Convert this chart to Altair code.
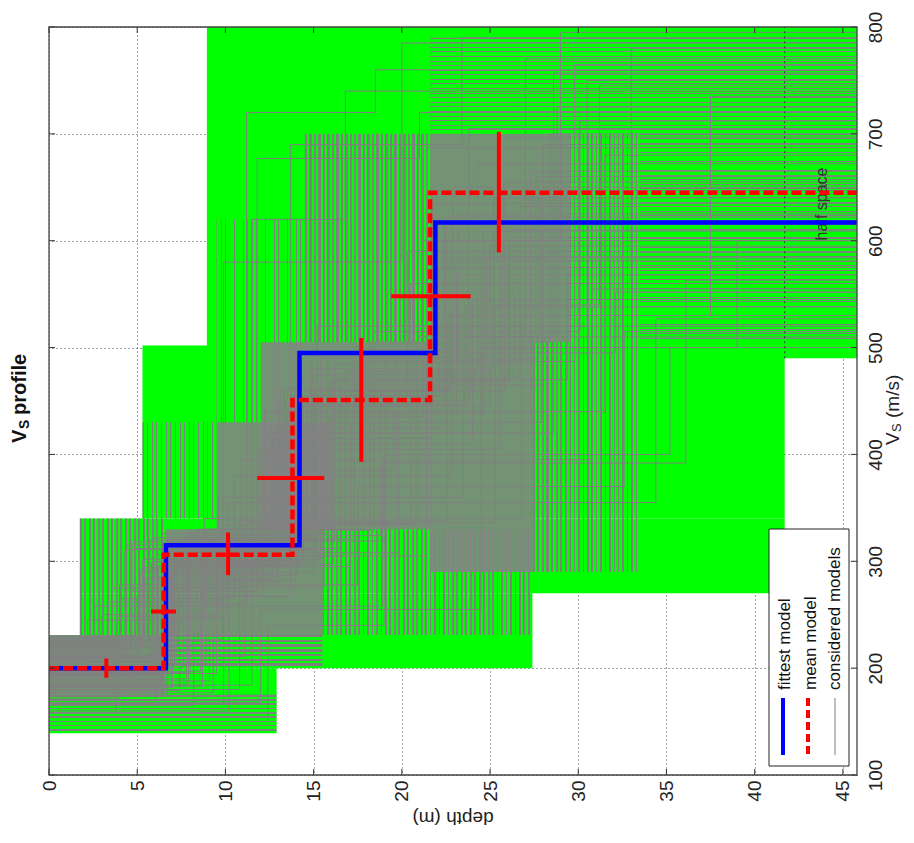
import altair as alt
import pandas as pd

DEPTH_MAX = 45.8
depth_ticks = [0, 5, 10, 15, 20, 25, 30, 35, 40, 45]
vs_ticks = [100, 200, 300, 400, 500, 600, 700, 800]

# green parameter-space envelope (depth from/to, Vs from/to)
green_d0 = [8.95, 5.3, 1.75, 1.75, 0.0, 0.0]
green_d1 = [45.8, 41.7, 41.7, 27.4, 27.4, 12.9]
green_v0 = [490, 340, 270, 231, 200, 139]
green_v1 = [800, 502, 340, 270, 231, 200]

# zones densely covered by considered models (solid gray)
core_d0 = [0.0, 6.6, 9.5, 12.0, 21.6, 21.6]
core_d1 = [6.6, 15.5, 16.0, 21.7, 29.5, 27.4]
core_v0 = [175, 231, 330, 330, 505, 290]
core_v1 = [231, 330, 430, 505, 700, 505]

# zones partly covered (line texture): depth from/to, Vs from/to, direction, gray share
tex_d0 = [1.75, 14.5, 29.5, 27.4, 0.0, 6.6, 15.5, 33.5, 5.3, 21.6, 9.5]
tex_d1 = [6.6, 21.6, 33.5, 29.5, 12.9, 15.5, 27.4, 45.8, 9.5, 45.8, 14.5]
tex_v0 = [231, 505, 290, 290, 139, 200, 231, 505, 340, 700, 430]
tex_v1 = [340, 700, 700, 505, 175, 231, 330, 700, 430, 790, 620]
tex_dir = ["v", "v", "v", "v", "h", "h", "v", "h", "v", "h", "v"]
tex_share = [0.4, 0.55, 0.35, 0.5, 0.4, 0.5, 0.4, 0.2, 0.22, 0.22, 0.15]

# considered models: v1, d1, v2, d2, v3, d3, v_halfspace
models = [
    [215, 5.2, 290, 12.4, 420, 24.5, 560], [190, 7.8, 310, 16.0, 470, 26.0, 610],
    [225, 4.1, 265, 10.5, 380, 22.8, 530], [205, 8.9, 330, 18.2, 505, 28.4, 700],
    [170, 6.1, 280, 13.0, 445, 20.3, 590], [160, 10.2, 300, 15.2, 520, 30.5, 750],
    [228, 3.0, 250, 9.6, 360, 23.5, 510], [198, 5.9, 322, 14.8, 480, 25.2, 640],
    [184, 11.5, 335, 20.5, 560, 33.0, 780], [212, 6.9, 295, 17.1, 430, 27.3, 665],
    [176, 4.6, 272, 11.8, 677, 21.0, 720], [220, 7.3, 318, 13.9, 455, 22.1, 575],
    [150, 12.4, 240, 19.0, 400, 35.2, 500], [208, 2.2, 245, 8.8, 340, 26.8, 530],
    [195, 9.5, 305, 21.4, 600, 29.0, 795], [230, 5.5, 285, 12.9, 410, 24.0, 545],
    [186, 6.4, 326, 15.8, 490, 23.2, 625], [165, 8.2, 260, 11.2, 720, 18.5, 760],
    [218, 4.9, 312, 16.5, 465, 28.0, 690], [202, 7.1, 298, 14.3, 435, 21.2, 600],
    [222, 3.6, 275, 10.9, 395, 30.8, 555], [180, 10.8, 338, 22.6, 530, 37.5, 735],
    [210, 6.0, 300, 13.3, 460, 25.8, 655], [192, 5.0, 268, 12.1, 385, 19.6, 520],
    [226, 8.4, 330, 17.9, 498, 27.0, 770], [174, 6.7, 290, 15.0, 475, 24.8, 585],
    [214, 4.4, 315, 11.5, 620, 16.8, 740], [200, 7.6, 308, 19.8, 440, 31.5, 680],
    [188, 9.1, 282, 14.0, 425, 22.5, 615], [224, 5.7, 320, 16.2, 485, 26.4, 545],
    [168, 12.0, 255, 24.5, 500, 39.0, 600], [206, 6.2, 296, 13.6, 450, 23.8, 705],
    [216, 3.3, 262, 9.9, 580, 20.0, 785], [196, 8.0, 324, 18.8, 470, 29.4, 575],
    [182, 7.0, 288, 12.7, 415, 21.7, 635], [219, 5.3, 302, 15.4, 490, 27.7, 660],
    [203, 6.8, 316, 14.6, 445, 25.0, 595], [172, 4.0, 278, 17.5, 370, 32.6, 515],
    [227, 9.8, 334, 20.9, 510, 28.8, 725], [194, 6.5, 309, 13.1, 462, 22.9, 650],
    [211, 5.8, 299, 12.2, 440, 23.1, 568], [189, 6.3, 287, 14.1, 468, 26.1, 603],
    [223, 4.7, 318, 13.4, 455, 22.4, 622], [179, 7.4, 276, 15.6, 430, 27.9, 647],
    [209, 6.6, 305, 16.8, 478, 24.3, 672], [197, 8.6, 313, 14.9, 492, 21.9, 584],
    [213, 5.1, 292, 11.9, 405, 25.6, 697], [185, 7.9, 329, 18.4, 515, 30.1, 712],
    [221, 6.1, 306, 13.8, 447, 23.6, 538], [201, 5.6, 283, 12.6, 420, 28.6, 757],
    [177, 9.3, 297, 16.1, 472, 26.7, 632], [217, 4.3, 311, 15.1, 459, 22.7, 581],
    [193, 6.9, 321, 17.3, 487, 29.8, 765], [229, 5.4, 294, 13.5, 438, 24.6, 609],
    [207, 7.2, 301, 14.4, 452, 21.4, 687], [183, 8.7, 319, 19.1, 495, 32.1, 552],
    [158, 3.8, 248, 10.1, 355, 34.4, 527], [166, 9.9, 267, 13.7, 690, 23.4, 790],
    [199, 2.6, 258, 18.9, 392, 36.1, 563], [211, 11.1, 336, 25.3, 540, 31.2, 745],
]

fit_depth = [0, 6.63, 14.2, 21.9]
fit_vs = [200, 315, 495, 617]
mean_depth = [0, 6.5, 13.8, 21.6]
mean_vs = [200, 306, 451, 645]

# error bars of the mean model
vbar_depth = [3.25, 10.15, 17.7, 25.5]
vbar_lo = [191, 287, 393, 589]
vbar_hi = [209, 327, 509, 702]
hbar_vs = [253, 378, 548]
hbar_lo = [5.78, 11.8, 19.4]
hbar_hi = [7.2, 15.6, 23.9]

W, H = 808, 748
FONT = "Liberation Sans"
GRAY = "#808080"

xs = alt.Scale(domain=[0, DEPTH_MAX], nice=False, zero=False)
ys = alt.Scale(domain=[100, 800], nice=False, zero=False)

x_axis = alt.Axis(values=depth_ticks, title="", labelAngle=270, labelAlign="right",
                  labelBaseline="middle", labelPadding=5, ticks=False, tickSize=0,
                  domain=False, grid=True, gridDash=[1, 3], gridColor="#333",
                  gridOpacity=0.9, labelFontSize=19, labelFont=FONT, labelColor="#222")
y_axis = alt.Axis(orient="right", values=vs_ticks, title="", labelAngle=270,
                  labelAlign="center", labelBaseline="top", labelPadding=9,
                  ticks=False, tickSize=0, domain=False, grid=True, gridDash=[1, 3],
                  gridColor="#333", gridOpacity=0.9, labelFontSize=19, labelFont=FONT,
                  labelColor="#222")


def X(f):
    return alt.X(f, scale=xs, axis=x_axis)


def Y(f):
    return alt.Y(f, scale=ys, axis=y_axis)


def steps(depths, vs):
    rows = []
    k = 0
    for i, v in enumerate(vs):
        top = depths[i]
        bot = depths[i + 1] if i + 1 < len(depths) else DEPTH_MAX
        rows.append({"d": top, "v": v, "seq": k}); k += 1
        rows.append({"d": bot, "v": v, "seq": k}); k += 1
    return pd.DataFrame(rows)


def stripes(length_px, share, vertical):
    # hard-stop gradient imitating a bundle of thin gray lines
    period = 4.5
    n = max(1, int(round(length_px / period)))
    clear = "rgba(0,255,0,0)"
    stops = []
    for k in range(n):
        a = k / n
        b = (k + share) / n
        c = (k + 1) / n
        stops += [alt.GradientStop(offset=a, color=GRAY), alt.GradientStop(offset=b, color=GRAY),
                  alt.GradientStop(offset=b, color=clear), alt.GradientStop(offset=c, color=clear)]
    if vertical:
        return alt.LinearGradient(gradient="linear", stops=stops, x1=0, x2=1, y1=0, y2=0)
    return alt.LinearGradient(gradient="linear", stops=stops, x1=0, x2=0, y1=0, y2=1)


green_df = pd.DataFrame({"d0": green_d0, "d1": green_d1, "v0": green_v0, "v1": green_v1})
core_df = pd.DataFrame({"d0": core_d0, "d1": core_d1, "v0": core_v0, "v1": core_v1})

segs = []
for m in models:
    v1, d1, v2, d2, v3, d3, v4 = m
    segs += [
        (0, d1, v1, v1), (d1, d2, v2, v2), (d2, d3, v3, v3), (d3, DEPTH_MAX, v4, v4),
        (d1, d1, v1, v2), (d2, d2, v2, v3), (d3, d3, v3, v4),
    ]
seg_df = pd.DataFrame(segs, columns=["d0", "d1", "v0", "v1"])

green = alt.Chart(green_df).mark_rect(color="#00ff00").encode(
    x=X("d0:Q"), x2="d1:Q", y=Y("v0:Q"), y2="v1:Q")

tex_layers = []
for i in range(len(tex_d0)):
    vert = tex_dir[i] == "v"
    if vert:
        length = (tex_d1[i] - tex_d0[i]) * W / DEPTH_MAX
    else:
        length = (tex_v1[i] - tex_v0[i]) * H / 700.0
    dfi = pd.DataFrame({"d0": [tex_d0[i]], "d1": [tex_d1[i]], "v0": [tex_v0[i]], "v1": [tex_v1[i]]})
    tex_layers.append(alt.Chart(dfi).mark_rect(color=stripes(length, tex_share[i], vert)).encode(
        x=X("d0:Q"), x2="d1:Q", y=Y("v0:Q"), y2="v1:Q"))

core = alt.Chart(core_df).mark_rect(color="#848484", opacity=0.88).encode(
    x=X("d0:Q"), x2="d1:Q", y=Y("v0:Q"), y2="v1:Q")

gray = alt.Chart(seg_df).mark_rule(color=GRAY, strokeWidth=1).encode(
    x=X("d0:Q"), x2="d1:Q", y=Y("v0:Q"), y2="v1:Q")

hs_line = alt.Chart(pd.DataFrame({"d": [41.7], "v0": [490], "v1": [800]})).mark_rule(
    color="#333", strokeDash=[2, 3], strokeWidth=1).encode(
    x=X("d:Q"), y=Y("v0:Q"), y2="v1:Q")

hs_text = alt.Chart(pd.DataFrame({"t": ["half space"]})).mark_text(
    angle=270, align="center", baseline="middle", fontSize=16, font=FONT,
    color="#333").encode(text="t:N", x=alt.value(773), y=alt.value(177))

fit = alt.Chart(steps(fit_depth, fit_vs)).mark_line(color="#0000ff", strokeWidth=4.5).encode(
    x=X("d:Q"), y=Y("v:Q"), order="seq:Q")

mean = alt.Chart(steps(mean_depth, mean_vs)).mark_line(
    color="#ff0000", strokeWidth=4.5, strokeDash=[10, 4]).encode(
    x=X("d:Q"), y=Y("v:Q"), order="seq:Q")

vbars = alt.Chart(pd.DataFrame({"d": vbar_depth, "lo": vbar_lo, "hi": vbar_hi})).mark_rule(
    color="#ff0000", strokeWidth=4).encode(x=X("d:Q"), y=Y("lo:Q"), y2="hi:Q")

hbars = alt.Chart(pd.DataFrame({"v": hbar_vs, "lo": hbar_lo, "hi": hbar_hi})).mark_rule(
    color="#ff0000", strokeWidth=4).encode(y=Y("v:Q"), x=X("lo:Q"), x2="hi:Q")

# inside ticks (MATLAB style)
dt = pd.DataFrame({"d": depth_ticks})
vt = pd.DataFrame({"v": vs_ticks})
tick_b = alt.Chart(dt).mark_rule(color="#333").encode(
    x=X("d:Q"), y=alt.value(H), y2=alt.value(H - 6))
tick_t = alt.Chart(dt).mark_rule(color="#333").encode(
    x=X("d:Q"), y=alt.value(0), y2=alt.value(6))
tick_l = alt.Chart(vt).mark_rule(color="#333").encode(
    y=Y("v:Q"), x=alt.value(0), x2=alt.value(6))
tick_r = alt.Chart(vt).mark_rule(color="#333").encode(
    y=Y("v:Q"), x=alt.value(W), x2=alt.value(W - 6))

one = pd.DataFrame({"k": [0]})
box = alt.Chart(one).mark_rect(filled=False, stroke="#444", strokeWidth=1.3).encode(
    x=alt.value(0), x2=alt.value(W), y=alt.value(0), y2=alt.value(H))

# legend (rotated)
leg_box = alt.Chart(one).mark_rect(fill="white", stroke="#222", strokeWidth=1).encode(
    x=alt.value(720), x2=alt.value(800), y=alt.value(502), y2=alt.value(739))
leg_fit = alt.Chart(one).mark_rule(color="#0000ff", strokeWidth=4).encode(
    x=alt.value(734), y=alt.value(671), y2=alt.value(728))
leg_mean = alt.Chart(one).mark_rule(color="#ff0000", strokeWidth=4, strokeDash=[8, 4]).encode(
    x=alt.value(759), y=alt.value(671), y2=alt.value(728))
leg_cons = alt.Chart(one).mark_rule(color=GRAY, strokeWidth=1).encode(
    x=alt.value(786), y=alt.value(671), y2=alt.value(728))
leg_t1 = alt.Chart(one).mark_text(text="fittest model", angle=270, align="left",
                                  baseline="middle", fontSize=17, font=FONT, color="#111").encode(
    x=alt.value(736), y=alt.value(663))
leg_t2 = alt.Chart(one).mark_text(text="mean model", angle=270, align="left",
                                  baseline="middle", fontSize=17, font=FONT, color="#111").encode(
    x=alt.value(762), y=alt.value(663))
leg_t3 = alt.Chart(one).mark_text(text="considered models", angle=270, align="left",
                                  baseline="middle", fontSize=17, font=FONT, color="#111").encode(
    x=alt.value(786), y=alt.value(663))

# titles (rotated)
title_v = alt.Chart(one).mark_text(text="V", angle=270, align="left", baseline="middle",
                                   fontSize=20, fontWeight="bold", font=FONT, color="#111").encode(
    x=alt.value(-29), y=alt.value(416))
title_s = alt.Chart(one).mark_text(text="S", angle=270, align="left", baseline="middle",
                                   fontSize=14, fontWeight="bold", font=FONT, color="#111").encode(
    x=alt.value(-24), y=alt.value(402))
title_p = alt.Chart(one).mark_text(text="profile", angle=270, align="left", baseline="middle",
                                   fontSize=20, fontWeight="bold", font=FONT, color="#111").encode(
    x=alt.value(-29), y=alt.value(388))

ax_v = alt.Chart(one).mark_text(text="V", angle=270, align="left", baseline="middle",
                                fontSize=19, font=FONT, color="#222").encode(
    x=alt.value(844), y=alt.value(418))
ax_s = alt.Chart(one).mark_text(text="S", angle=270, align="left", baseline="middle",
                                fontSize=13, font=FONT, color="#222").encode(
    x=alt.value(848), y=alt.value(405))
ax_u = alt.Chart(one).mark_text(text="(m/s)", angle=270, align="left", baseline="middle",
                                fontSize=19, font=FONT, color="#222").encode(
    x=alt.value(844), y=alt.value(391))
ax_d = alt.Chart(one).mark_text(text="depth (m)", angle=180, align="center", baseline="middle",
                                fontSize=19, font=FONT, color="#222").encode(
    x=alt.value(404), y=alt.value(791))

chart = alt.layer(
    green, *tex_layers, core, gray, hs_line, hs_text, fit, mean, vbars, hbars,
    tick_b, tick_t, tick_l, tick_r, box,
    leg_box, leg_fit, leg_mean, leg_cons, leg_t1, leg_t2, leg_t3,
    title_v, title_s, title_p, ax_v, ax_s, ax_u, ax_d,
).properties(
    width=W, height=H,
    autosize=alt.AutoSizeParams(type="none"),
    padding={"left": 41, "top": 19, "right": 49, "bottom": 62},
).configure_view(strokeWidth=0)

chart.save("out.html", embed_options={"renderer": "svg", "actions": False})
